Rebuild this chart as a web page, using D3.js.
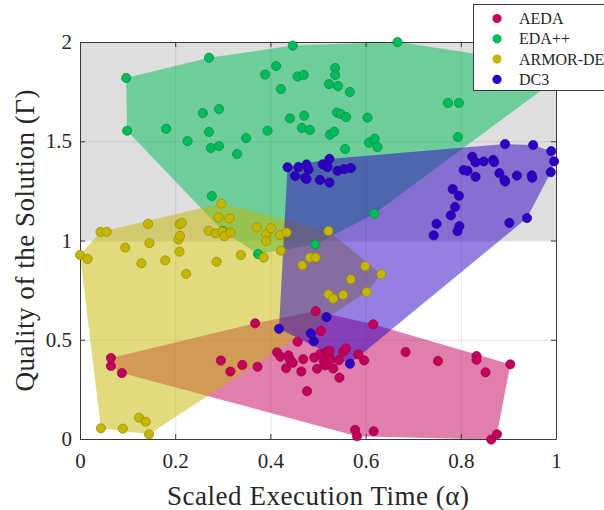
<!DOCTYPE html>
<meta charset="utf-8">
<script src="https://d3js.org/d3.v7.min.js"></script>
<style>
body {
  margin: 0;
  background-color: white;
  overflow: hidden;
}
text {
  font-family: "Liberation Serif", "Times New Roman", serif;
  fill: #262626;
}
</style>
<svg width="604" height="510" id="vis"></svg>
<script>

// series names + colours (hull uses same colour at half alpha)
var seriesNames = ["AEDA", "EDA++", "ARMOR-DE", "DC3"];
var seriesColors = ["#c2005a", "#00bb58", "#c4b600", "#2c00c2"];

// [alpha, gamma]
var aedaPoints = [
  [0.065,0.408],[0.065,0.368],[0.088,0.332],[0.296,0.395],[0.316,0.340],[0.341,0.373],[0.373,0.364],
  [0.368,0.583],[0.457,0.490],[0.414,0.437],[0.421,0.415],[0.438,0.421],[0.441,0.401],[0.447,0.384],
  [0.433,0.357],[0.469,0.402],[0.465,0.340],[0.477,0.241],[0.492,0.410],[0.495,0.644],[0.498,0.354],
  [0.505,0.429],[0.512,0.393],[0.515,0.371],[0.519,0.440],[0.524,0.443],[0.527,0.402],[0.532,0.355],
  [0.544,0.397],[0.545,0.309],[0.553,0.440],[0.559,0.456],[0.585,0.426],[0.597,0.396],[0.616,0.578],
  [0.506,0.544],[0.578,0.046],[0.582,0.014],[0.617,0.039],[0.684,0.438],[0.752,0.393],[0.833,0.418],
  [0.833,0.399],[0.852,0.336],[0.904,0.376],[0.864,-0.003],[0.876,0.024]
];

var edaPoints = [
  [0.097,1.819],[0.099,1.553],[0.181,1.563],[0.226,1.501],[0.258,1.642],[0.271,1.921],[0.271,1.547],
  [0.275,1.466],[0.292,1.662],[0.292,1.476],[0.277,1.224],[0.330,1.436],[0.349,1.516],[0.389,1.836],
  [0.412,1.879],[0.422,1.763],[0.447,1.982],[0.457,1.826],[0.470,1.834],[0.441,1.615],[0.471,1.629],
  [0.394,1.553],[0.466,1.567],[0.483,1.557],[0.536,1.869],[0.536,1.834],[0.523,1.788],[0.542,1.778],
  [0.567,1.748],[0.540,1.644],[0.548,1.637],[0.559,1.622],[0.604,1.619],[0.525,1.533],[0.534,1.548],
  [0.557,1.461],[0.607,1.493],[0.619,1.513],[0.625,1.471],[0.618,1.135],[0.667,2.000],[0.773,1.693],
  [0.796,1.693],[0.794,1.521],[0.494,0.980],[0.374,0.932],[0.300,1.048],[0.945,1.899],[0.987,1.788]
];

var armorPoints = [
  [0.000,0.927],[0.016,0.907],[0.043,1.043],[0.056,1.044],[0.143,1.084],[0.209,1.082],[0.214,1.089],
  [0.207,1.005],[0.210,1.024],[0.146,0.987],[0.095,0.964],[0.129,0.885],[0.179,0.900],[0.209,0.944],
  [0.223,0.832],[0.270,1.049],[0.285,1.036],[0.299,1.045],[0.303,1.022],[0.316,1.039],[0.291,1.117],
  [0.314,1.111],[0.297,1.186],[0.287,0.893],[0.338,0.927],[0.371,1.066],[0.391,1.032],[0.401,1.062],
  [0.391,0.997],[0.420,1.028],[0.434,1.040],[0.422,0.949],[0.386,0.914],[0.467,0.875],[0.483,0.914],
  [0.495,0.914],[0.522,1.048],[0.599,0.870],[0.633,0.830],[0.569,0.805],[0.602,0.740],[0.522,0.728],
  [0.532,0.707],[0.553,0.726],[0.044,0.054],[0.090,0.052],[0.124,0.107],[0.138,0.087],[0.145,0.024]
];

var dc3Points = [
  [0.436,1.369],[0.459,1.370],[0.476,1.383],[0.480,1.358],[0.452,1.325],[0.473,1.316],[0.476,1.310],
  [0.510,1.384],[0.524,1.411],[0.520,1.370],[0.504,1.305],[0.524,1.292],[0.541,1.351],[0.555,1.360],
  [0.569,1.365],[0.893,1.486],[0.952,1.481],[0.990,1.450],[0.996,1.399],[0.989,1.344],[0.824,1.422],
  [0.831,1.394],[0.848,1.398],[0.868,1.406],[0.870,1.395],[0.806,1.355],[0.814,1.351],[0.831,1.321],
  [0.881,1.339],[0.892,1.304],[0.893,1.297],[0.918,1.327],[0.949,1.328],[0.950,1.316],[0.783,1.259],
  [0.796,1.225],[0.788,1.169],[0.779,1.127],[0.749,1.084],[0.743,1.026],[0.797,1.072],[0.793,1.047],
  [0.902,1.089],[0.939,1.113],[0.518,0.614],[0.418,0.555],[0.485,0.532],[0.491,0.492],[0.567,0.379]
];

var xTicks = [0, 0.2, 0.4, 0.6, 0.8, 1];
var xTickLabels = ["0", "0.2", "0.4", "0.6", "0.8", "1"];
var yTicks = [0, 0.5, 1, 1.5, 2];
var yTickLabels = ["0", "0.5", "1", "1.5", "2"];
var shadeBand = [1, 2];   // grey region of gamma

var allSeries = [aedaPoints, edaPoints, armorPoints, dc3Points];

var svg = d3.select("#vis");

var x = d3.scaleLinear().domain([0, 1]).range([80, 556]);
var y = d3.scaleLinear().domain([0, 2]).range([439, 42]);

// grey band
svg.append("rect")
  .attr("x", x(0))
  .attr("y", y(shadeBand[1]))
  .attr("width", x(1) - x(0))
  .attr("height", y(shadeBand[0]) - y(shadeBand[1]))
  .attr("fill", "#dedede");

// grid
var grid = svg.append("g").attr("stroke", "#262626").attr("stroke-opacity", 0.13);
grid.selectAll(".gx").data(xTicks).enter().append("line")
  .attr("x1", function(d) { return x(d) + 0.5; })
  .attr("x2", function(d) { return x(d) + 0.5; })
  .attr("y1", y(2)).attr("y2", y(0));
grid.selectAll(".gy").data(yTicks).enter().append("line")
  .attr("x1", x(0)).attr("x2", x(1))
  .attr("y1", function(d) { return y(d) + 0.5; })
  .attr("y2", function(d) { return y(d) + 0.5; });

// convex hulls, same order as the legend
var hulls = svg.append("g");
allSeries.forEach(function(pts, i) {
  var hull = d3.polygonHull(pts.map(function(p) { return [x(p[0]), y(p[1])]; }));
  hulls.append("path")
    .attr("d", "M" + hull.join("L") + "Z")
    .attr("fill", seriesColors[i])
    .attr("fill-opacity", 0.5);
});

// axes (box with inward ticks)
function styleAxis(g) {
  g.attr("color", "#3a3a3a").attr("font-family", null).attr("font-size", null);
  g.selectAll("text").style("font-size", "21px");
}

svg.append("g")
  .attr("transform", "translate(0," + y(0) + ")")
  .call(d3.axisBottom(x).tickValues(xTicks)
    .tickFormat(function(d, i) { return xTickLabels[i]; })
    .tickSizeInner(-5).tickSizeOuter(0).tickPadding(14))
  .call(styleAxis);

svg.append("g")
  .attr("transform", "translate(" + x(0) + ",0)")
  .call(d3.axisLeft(y).tickValues(yTicks)
    .tickFormat(function(d, i) { return yTickLabels[i]; })
    .tickSizeInner(-5).tickSizeOuter(0).tickPadding(8))
  .call(styleAxis);

svg.append("g")
  .attr("transform", "translate(0," + y(2) + ")")
  .call(d3.axisTop(x).tickValues(xTicks).tickFormat("")
    .tickSizeInner(-5).tickSizeOuter(0))
  .call(styleAxis);

svg.append("g")
  .attr("transform", "translate(" + x(1) + ",0)")
  .call(d3.axisRight(y).tickValues(yTicks).tickFormat("")
    .tickSizeInner(-5).tickSizeOuter(0))
  .call(styleAxis);

// scatter points on top
allSeries.forEach(function(pts, i) {
  svg.append("g").selectAll("circle")
    .data(pts)
    .enter()
    .append("circle")
    .attr("cx", function(d) { return x(d[0]); })
    .attr("cy", function(d) { return y(d[1]); })
    .attr("r", 4.6)
    .attr("fill", seriesColors[i])
    .attr("stroke", d3.color(seriesColors[i]).darker(0.8))
    .attr("stroke-width", 0.7);
});

// axis labels
svg.append("text")
  .attr("x", (x(0) + x(1)) / 2)
  .attr("y", 505)
  .attr("text-anchor", "middle")
  .attr("textLength", 302)
  .attr("lengthAdjust", "spacing")
  .style("font-size", "27px")
  .text("Scaled Execution Time (\u03b1)");

svg.append("text")
  .attr("transform", "translate(34," + (y(0) + y(2)) / 2 + ") rotate(-90)")
  .attr("text-anchor", "middle")
  .attr("textLength", 302)
  .attr("lengthAdjust", "spacing")
  .style("font-size", "27px")
  .text("Quality of the Solution (\u0393)");

// legend, runs off the right edge like the original
var legend = svg.append("g");
legend.append("rect")
  .attr("x", 473.5).attr("y", 4.5)
  .attr("width", 170).attr("height", 86)
  .attr("fill", "white")
  .attr("stroke", "#3a3a3a")
  .attr("stroke-width", 1);

seriesNames.forEach(function(name, i) {
  var ly = 18.5 + i * 20.3;
  legend.append("circle")
    .attr("cx", 497).attr("cy", ly).attr("r", 4.6)
    .attr("fill", seriesColors[i]);
  legend.append("text")
    .attr("x", 519).attr("y", ly + 5.5)
    .style("font-size", "16px")
    .text(name);
});

</script>
